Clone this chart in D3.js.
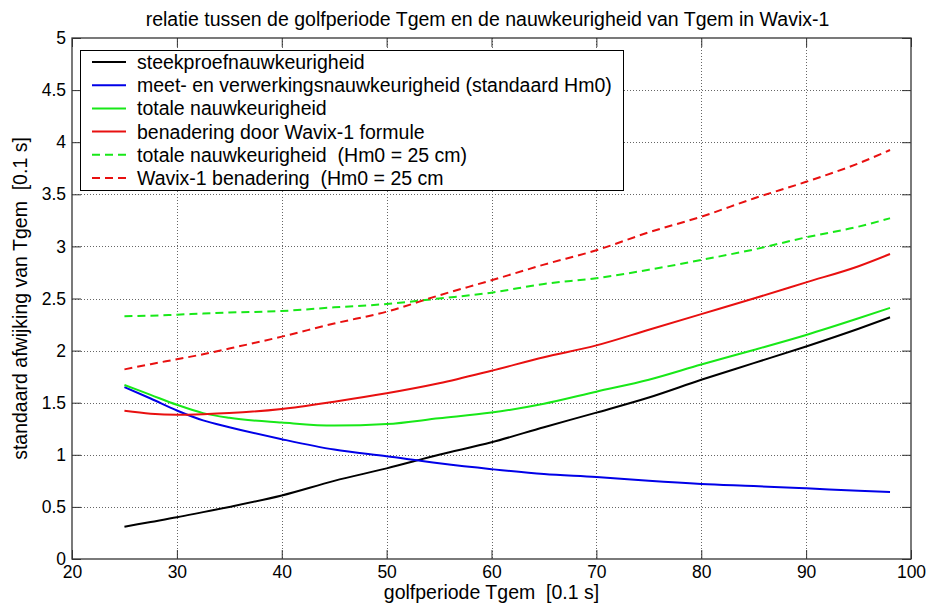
<!DOCTYPE html>
<html>
<head>
<meta charset="utf-8">
<script src="https://d3js.org/d3.v7.min.js"></script>
<style>
  body { margin: 0; background: #fff; }
  svg { display: block; }
  text { font-family: "Liberation Sans", Arial, sans-serif; fill: #000; white-space: pre; }
</style>
</head>
<body>
<svg id="chart" width="930" height="614"></svg>
<script>
// Wave period Tgem [0.1 s]
const tgem = [25, 27.5, 30, 32.5, 35, 40, 45, 50, 55, 60, 65, 70, 75, 80, 85, 90, 95, 98];

// Standard deviation of Tgem [0.1 s]
const steekproef      = [0.31, 0.355, 0.40, 0.45, 0.50, 0.61, 0.75, 0.87, 1.00, 1.12, 1.265, 1.405, 1.55, 1.72, 1.88, 2.04, 2.21, 2.32];
const meetVerwerking  = [1.65, 1.54, 1.425, 1.33, 1.265, 1.15, 1.05, 0.985, 0.918, 0.862, 0.815, 0.787, 0.75, 0.72, 0.70, 0.678, 0.655, 0.643];
const totaal          = [1.67, 1.575, 1.48, 1.40, 1.355, 1.31, 1.28, 1.295, 1.35, 1.405, 1.49, 1.606, 1.72, 1.866, 2.006, 2.15, 2.31, 2.41];
const wavixFormule    = [1.423, 1.395, 1.385, 1.39, 1.40, 1.44, 1.51, 1.59, 1.686, 1.807, 1.936, 2.05, 2.20, 2.35, 2.50, 2.655, 2.81, 2.927];
const totaalHm25      = [2.33, 2.335, 2.345, 2.355, 2.365, 2.38, 2.415, 2.447, 2.50, 2.556, 2.64, 2.695, 2.776, 2.87, 2.97, 3.087, 3.19, 3.27];
const wavixHm25       = [1.82, 1.87, 1.917, 1.965, 2.02, 2.134, 2.26, 2.373, 2.53, 2.675, 2.825, 2.963, 3.135, 3.285, 3.46, 3.62, 3.797, 3.925];

const legendLabels = [
  "steekproefnauwkeurigheid",
  "meet- en verwerkingsnauwkeurigheid (standaard Hm0)",
  "totale nauwkeurigheid",
  "benadering door Wavix-1 formule",
  "totale nauwkeurigheid  (Hm0 = 25 cm)",
  "Wavix-1 benadering  (Hm0 = 25 cm"
];

const xTicks = [20, 30, 40, 50, 60, 70, 80, 90, 100];
const yTicks = [0, 0.5, 1, 1.5, 2, 2.5, 3, 3.5, 4, 4.5, 5];

const titleText = "relatie tussen de golfperiode Tgem en de nauwkeurigheid van Tgem in Wavix-1";
const xLabel = "golfperiode Tgem  [0.1 s]";
const yLabel = "standaard afwijking van Tgem  [0.1 s]";

// Line styles, in legend order
const styles = [
  { color: "#000000", dash: null },
  { color: "#0000e8", dash: null },
  { color: "#18e818", dash: null },
  { color: "#e81010", dash: null },
  { color: "#18e818", dash: "8,5" },
  { color: "#e81010", dash: "8,5" }
];
const seriesValues = [steekproef, meetVerwerking, totaal, wavixFormule, totaalHm25, wavixHm25];

const svg = d3.select("#chart");
const plot = { left: 72, right: 911, top: 38, bottom: 559 };

const x = d3.scaleLinear().domain([20, 100]).range([plot.left, plot.right]);
const y = d3.scaleLinear().domain([0, 5]).range([plot.bottom, plot.top]);

svg.append("rect").attr("width", 930).attr("height", 614).attr("fill", "#fff");

// Dotted grid
const grid = svg.append("g").attr("stroke", "#666").attr("stroke-width", 1).attr("stroke-dasharray", "1,2");
grid.selectAll("line.gx").data(xTicks.slice(1, -1)).join("line")
  .attr("x1", d => Math.round(x(d)) + 0.5).attr("x2", d => Math.round(x(d)) + 0.5)
  .attr("y1", plot.top).attr("y2", plot.bottom);
grid.selectAll("line.gy").data(yTicks.slice(1, -1)).join("line")
  .attr("y1", d => Math.round(y(d)) + 0.5).attr("y2", d => Math.round(y(d)) + 0.5)
  .attr("x1", plot.left).attr("x2", plot.right);

// Axes with inward ticks on all four sides
function styleAxis(g) {
  g.select(".domain").remove();
  g.selectAll(".tick line").attr("stroke", "#333");
  g.selectAll(".tick text").attr("font-size", 17.5).attr("fill", "#000")
    .style("font-family", '"Liberation Sans", Arial, sans-serif');
}
svg.append("g").attr("transform", `translate(0,${plot.bottom})`)
  .call(d3.axisBottom(x).tickValues(xTicks).tickSize(-9).tickPadding(7).tickFormat(d3.format("d")))
  .call(styleAxis);
svg.append("g").attr("transform", `translate(0,${plot.top})`)
  .call(d3.axisTop(x).tickValues(xTicks).tickSize(-9).tickFormat(""))
  .call(styleAxis);
svg.append("g").attr("transform", `translate(${plot.left},0)`)
  .call(d3.axisLeft(y).tickValues(yTicks).tickSize(-9).tickPadding(6).tickFormat(d => String(d)))
  .call(styleAxis);
svg.append("g").attr("transform", `translate(${plot.right},0)`)
  .call(d3.axisRight(y).tickValues(yTicks).tickSize(-9).tickFormat(""))
  .call(styleAxis);

// Axes box
svg.append("rect")
  .attr("x", plot.left).attr("y", plot.top)
  .attr("width", plot.right - plot.left).attr("height", plot.bottom - plot.top)
  .attr("fill", "none").attr("stroke", "#333").attr("stroke-width", 1.3);

// Curves
const line = d3.line().x(d => x(d[0])).y(d => y(d[1])).curve(d3.curveMonotoneX);
seriesValues.forEach((vals, i) => {
  svg.append("path")
    .datum(tgem.map((t, k) => [t, vals[k]]))
    .attr("d", line)
    .attr("fill", "none")
    .attr("stroke", styles[i].color)
    .attr("stroke-width", 2)
    .attr("stroke-linejoin", "round")
    .attr("stroke-dasharray", styles[i].dash);
});

// Title and axis labels
svg.append("text").attr("x", (plot.left + plot.right) / 2 - 4).attr("y", 26)
  .attr("text-anchor", "middle").attr("font-size", 19.5).text(titleText);
svg.append("text").attr("x", (plot.left + plot.right) / 2).attr("y", 599)
  .attr("text-anchor", "middle").attr("font-size", 19.5).text(xLabel);
svg.append("text")
  .attr("transform", `translate(27,${(plot.top + plot.bottom) / 2}) rotate(-90)`)
  .attr("text-anchor", "middle").attr("font-size", 19.5).text(yLabel);

// Legend
const legend = svg.append("g");
legend.append("rect").attr("x", 80.5).attr("y", 50.5).attr("width", 543).attr("height", 140)
  .attr("fill", "#fff").attr("stroke", "#000").attr("stroke-width", 1);
legendLabels.forEach((label, i) => {
  const ly = 62 + i * 23.2;
  legend.append("line").attr("x1", 92).attr("x2", 126).attr("y1", ly).attr("y2", ly)
    .attr("stroke", styles[i].color).attr("stroke-width", 2)
    .attr("stroke-dasharray", styles[i].dash);
  legend.append("text").attr("x", 137).attr("y", ly + 7).attr("font-size", 19.5).text(label);
});
</script>
</body>
</html>
